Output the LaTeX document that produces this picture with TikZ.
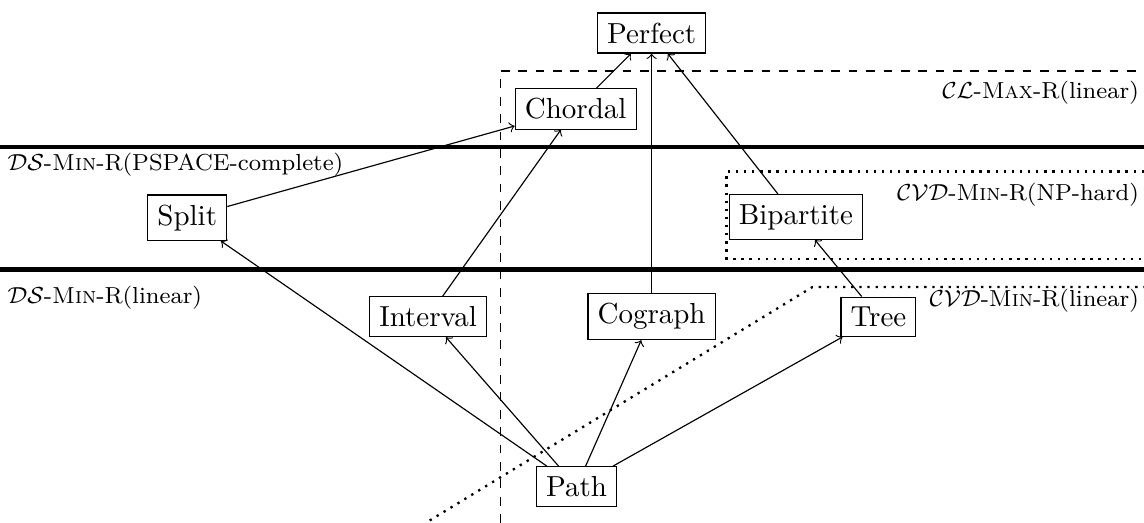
\documentclass[tikz,border=0pt]{standalone}
\usepackage{amsmath, amssymb}
\usepackage{tikz}
\usetikzlibrary{shapes}
\usetikzlibrary{arrows}
\tikzstyle{classe}=[rectangle,draw,text=black]
\tikzstyle{etiquette}=[font=\footnotesize,inner sep=1pt]
\tikzstyle{frontiere}=[ultra thick]
\tikzstyle{suite}=[->,>=to]

\begin{document}
\begin{tikzpicture}
\useasboundingbox (0,0) rectangle (13.87,-6.34);
%Zones
\draw[frontiere] (0,-1.78) -- (13.87,-1.78);
\draw[frontiere] (0,-3.27) -- (13.87,-3.27);
\draw[dashed] (6.07,-6.34) -- (6.07,-0.86) -- (13.87,-0.86);
\draw[dotted,thick] (13.87,-2.08) -- (8.81,-2.08) -- (8.81,-3.14) -- (13.87,-3.14);
\draw[dotted,thick] (5.21,-6.31) -- (9.85,-3.48) -- (13.87,-3.48);
\node[etiquette,anchor=east] (clmax) at (13.85,-1.12) {$\mathcal{CL}$-\textsc{Max}-R(linear)};
\node[etiquette,anchor=west] (dspspace) at (0.05,-2.0) {$\mathcal{DS}$-\textsc{Min}-R(PSPACE-complete)};
\node[etiquette,anchor=east] (cvdnp) at (13.85,-2.36) {$\mathcal{CVD}$-\textsc{Min}-R(NP-hard)};
\node[etiquette,anchor=west] (dslin) at (0.05,-3.61) {$\mathcal{DS}$-\textsc{Min}-R(linear)};
\node[etiquette,anchor=east] (cvdlin) at (13.85,-3.64) {$\mathcal{CVD}$-\textsc{Min}-R(linear)};
%Classes
\node[classe] (perfect) at (7.90,-0.40) {Perfect};
\node[classe] (chordal) at (6.98,-1.32) {Chordal};
\node[classe] (split) at (2.27,-2.64) {Split};
\node[classe] (bipartite) at (9.65,-2.63) {Bipartite};
\node[classe] (interval) at (5.19,-3.84) {Interval};
\node[classe] (cograph) at (7.90,-3.84) {Cograph};
\node[classe] (tree) at (10.65,-3.84) {Tree};
\node[classe] (path) at (6.99,-5.90) {Path};
%Placementdesflèches
\draw[suite] (chordal) -- (perfect);
\draw[suite] (cograph) -- (perfect);
\draw[suite] (bipartite) -- (perfect);
\draw[suite] (split) -- (chordal);
\draw[suite] (interval) -- (chordal);
\draw[suite] (tree) -- (bipartite);
\draw[suite] (path) -- (split);
\draw[suite] (path) -- (interval);
\draw[suite] (path) -- (cograph);
\draw[suite] (path) -- (tree);
\end{tikzpicture}
\end{document}
